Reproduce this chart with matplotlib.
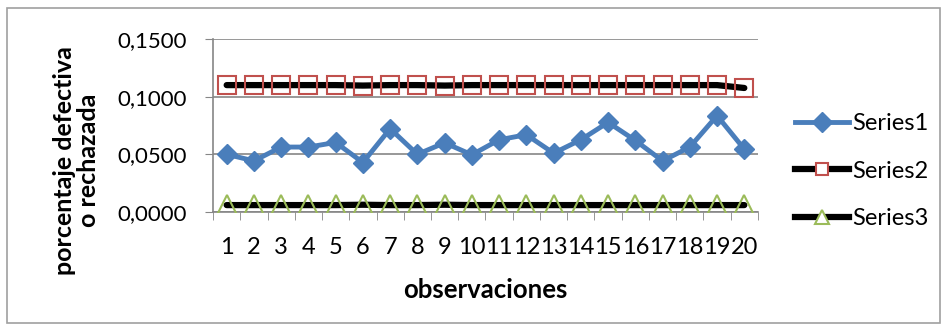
import matplotlib.pyplot as plt
from matplotlib.patches import Rectangle
from matplotlib.lines import Line2D

plt.rcParams['font.family'] = ['Lato', 'DejaVu Sans']

# observaciones
obs = list(range(1, 21))
series1 = [0.0500, 0.0443, 0.0563, 0.0563, 0.0603, 0.0429, 0.0722, 0.0500, 0.0600, 0.0496,
           0.0626, 0.0670, 0.0510, 0.0626, 0.0777, 0.0620, 0.0443, 0.0563, 0.0835, 0.0545]
series2 = [0.1100, 0.1100, 0.1100, 0.1100, 0.1100, 0.1096, 0.1100, 0.1100, 0.1096, 0.1100,
           0.1100, 0.1100, 0.1100, 0.1100, 0.1100, 0.1100, 0.1100, 0.1100, 0.1100, 0.1075]
series3 = [0.0060, 0.0060, 0.0060, 0.0060, 0.0060, 0.0063, 0.0060, 0.0060, 0.0063, 0.0060,
           0.0060, 0.0060, 0.0060, 0.0060, 0.0060, 0.0060, 0.0060, 0.0060, 0.0060, 0.0060]
yticks = [0.0, 0.05, 0.10, 0.15]
ytick_labels = ['0,0000', '0,0500', '0,1000', '0,1500']

fig = plt.figure(figsize=(9.46, 3.29), dpi=100)
ax = fig.add_axes([0.2252, 0.3556, 0.576, 0.526])

# marco exterior del grafico
fig.patches.append(Rectangle((0.0075, 0.018), 0.986, 0.958, transform=fig.transFigure,
                             fill=False, edgecolor='#a0a0a0', linewidth=1.2))

ax.plot(obs, series1, color='#4a7ebb', linewidth=3.5, marker='D', markersize=10,
        markerfacecolor='#4a7ebb', markeredgecolor='#4a7ebb', label='Series1', zorder=3)
ax.plot(obs, series2, color='black', linewidth=4.5, marker='s', markersize=13,
        markerfacecolor='none', markeredgecolor='#c0504d', markeredgewidth=1.5,
        label='Series2', zorder=3, solid_capstyle='round')
ax.plot(obs, series3, color='black', linewidth=4.5, marker='^', markersize=14,
        markerfacecolor='none', markeredgecolor='#9bbb59', markeredgewidth=1.5,
        label='Series3', zorder=3, solid_capstyle='round')

ax.set_xlim(0.5, 20.5)
ax.set_ylim(0, 0.15)
ax.set_yticks(yticks)
ax.set_yticklabels(ytick_labels)
ax.set_xticks(obs)
ax.set_xticklabels([str(o) for o in obs])
ax.set_xticks([o + 0.5 for o in range(0, 21)], minor=True)
ax.tick_params(axis='x', which='major', length=0, pad=18, labelsize=17)
ax.tick_params(axis='x', which='minor', length=6, color='#868686', direction='out')
ax.tick_params(axis='y', length=6, color='#868686', pad=13, labelsize=16)

ax.grid(axis='y', color='#868686', linewidth=1.2)
ax.set_axisbelow(True)
for side in ['top', 'right']:
    ax.spines[side].set_visible(False)
for side in ['left', 'bottom']:
    ax.spines[side].set_color('#868686')
    ax.spines[side].set_linewidth(1.2)

ax.set_xlabel('observaciones', fontsize=18.5, fontweight='bold')
ax.xaxis.set_label_coords(0.499, -0.38)
ax.set_ylabel('porcentaje defectiva\no rechazada', fontsize=18, fontweight='bold',
              linespacing=1.05)
ax.yaxis.set_label_coords(-0.207, 0.30)

handles = [
    Line2D([], [], color='#4a7ebb', linewidth=3.5, marker='D', markersize=10,
           markerfacecolor='#4a7ebb', markeredgecolor='#4a7ebb'),
    Line2D([], [], color='black', linewidth=4.5, marker='s', markersize=9,
           markerfacecolor='white', markeredgecolor='#c0504d', markeredgewidth=1.5),
    Line2D([], [], color='black', linewidth=4.5, marker='^', markersize=10,
           markerfacecolor='white', markeredgecolor='#9bbb59', markeredgewidth=1.5),
]
fig.legend(handles, ['Series1', 'Series2', 'Series3'], loc='center left',
           bbox_to_anchor=(0.840, 0.48), frameon=False, fontsize=17,
           borderaxespad=0, borderpad=0,
           handlelength=2.3, handletextpad=0.15, labelspacing=1.12)

fig.savefig('out.png', dpi=100)
